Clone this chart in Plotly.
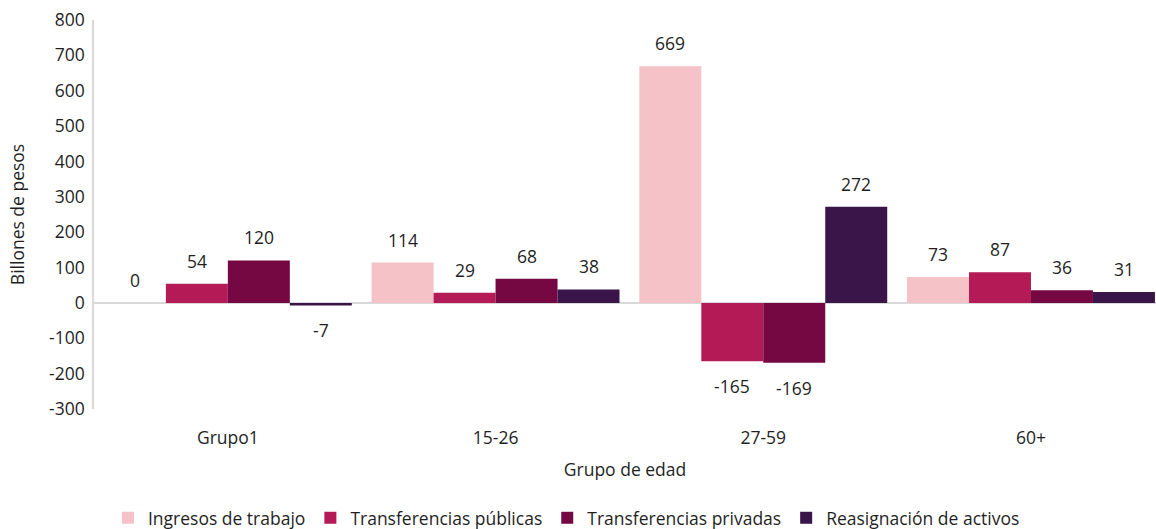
import plotly.graph_objects as go

categories = ["Grupo1", "15-26", "27-59", "60+"]
series_names = ["Ingresos de trabajo", "Transferencias públicas", "Transferencias privadas", "Reasignación de activos"]
ingresos = [0, 114, 669, 73]
publicas = [54, 29, -165, 87]
privadas = [120, 68, -169, 36]
reasignacion = [-7, 38, 272, 31]
colors = ["#F4C2C7", "#B41A55", "#750842", "#3A1549"]
y_ticks = [-300, -200, -100, 0, 100, 200, 300, 400, 500, 600, 700, 800]
y_tick_labels = [str(v) for v in y_ticks]

FONT = "Open Sans"
FS = 17.5
TXT = "#1f1f1f"
series = [ingresos, publicas, privadas, reasignacion]

fig = go.Figure()
for name, vals, col in zip(series_names, series, colors):
    fig.add_trace(go.Bar(name=name, x=categories, y=vals, marker=dict(color=col, line=dict(width=0))))

bar_px = 62
annotations = []
for i, vals in enumerate(series):
    for c, v in zip(categories, vals):
        annotations.append(dict(
            x=c, y=v, xref="x", yref="y", text=str(v), showarrow=False,
            xshift=(i - 1.5) * bar_px, yshift=23 if v >= 0 else -25,
            font=dict(family=FONT, size=FS, color=TXT)))

fig.update_layout(
    barmode="group", bargap=0.074, bargroupgap=0,
    width=1156, height=529,
    margin=dict(l=94, r=0, t=20, b=120),
    paper_bgcolor="white", plot_bgcolor="white",
    font=dict(family=FONT, size=FS, color=TXT),
    annotations=annotations,
    legend=dict(orientation="h", xref="container", x=0.490, xanchor="center",
                yref="container", y=0.021, yanchor="middle",
                font=dict(family=FONT, size=FS), traceorder="normal",
                itemwidth=30),
    xaxis=dict(title=dict(text="Grupo de edad", font=dict(size=FS), standoff=16),
               range=[-0.5, 3.467],
               showline=False, showgrid=False, ticks="", tickfont=dict(size=FS),
               ticklabelstandoff=16),
    yaxis=dict(title=dict(text="Billones de pesos", font=dict(size=FS), standoff=20),
               range=[-300, 800], tickvals=y_ticks, ticktext=y_tick_labels, showgrid=False,
               showline=True, linecolor="#D9D9D9", linewidth=1.5,
               zeroline=True, zerolinecolor="#D9D9D9", zerolinewidth=1.5,
               tickfont=dict(size=FS), ticklabelstandoff=4,
               ticklabeloverflow="allow"),
)
fig.write_html("out.html", config={"displayModeBar": False},
               post_script="document.body.style.margin='0';")
